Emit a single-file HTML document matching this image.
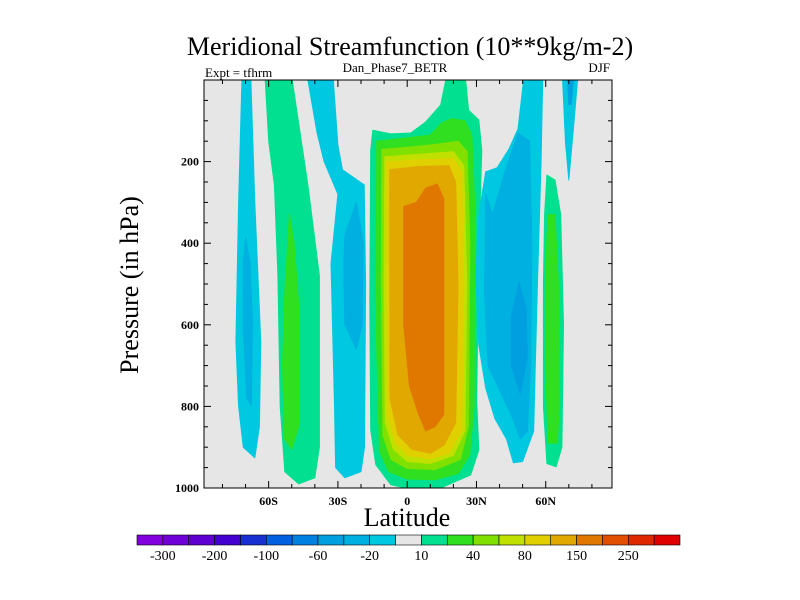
<!DOCTYPE html>
<html><head><meta charset="utf-8">
<style>
html,body{margin:0;padding:0;background:#fff;}
svg{display:block;font-family:"Liberation Serif",serif;}
</style></head>
<body>
<svg id="chart" width="800" height="600" viewBox="0 0 800 600">
<text x="410" y="55" font-size="26" text-anchor="middle">Meridional Streamfunction (10**9kg/m-2)</text>
<text x="205" y="77" font-size="13">Expt = tfhrm</text>
<text x="395" y="72" font-size="13" text-anchor="middle">Dan_Phase7_BETR</text>
<text x="610" y="72" font-size="13" text-anchor="end">DJF</text>
<rect x="204" y="80" width="408" height="408" fill="#e6e6e6"/>
<g id="fills"></g>
<g id="axes"></g>
<rect x="204" y="80" width="408" height="408" fill="none" stroke="#000" stroke-width="1"/>
<text transform="translate(138,285) rotate(-90)" font-size="26" text-anchor="middle">Pressure (in hPa)</text>
<text x="407" y="526" font-size="26" text-anchor="middle">Latitude</text>
<g id="colorbar"></g>
</svg>
<script>
// ---- data ----
const latTicks = [-60, -30, 0, 30, 60];
const latTickLabels = ["60S", "30S", "0", "30N", "60N"];
const presTicks = [200, 400, 600, 800, 1000];
const presTickLabels = ["200", "400", "600", "800", "1000"];
const cbColors = ["#8000e0","#7000d8","#6000d0","#4400d0","#1830d0","#0060e0","#0080e0","#00a0e0","#00b0e0","#00c8e0","#e6e6e6","#00e090","#30e020","#80e000","#c0e000","#e0d000","#e0a800","#e07800","#e05000","#e02800","#e00000"];
const cbLabels = ["-300","-200","-100","-60","-20","10","40","80","150","250"];
// contour regions: fill level color index + [lat, pressure] vertices
const regionLevels = [9,8, 11,12, 9,8, 11,12,13,14,15,16,17, 9,8,7, 9,7, 11,12];
const regionShapes = [
 [[-71.6,0],[-67.7,0],[-66,300],[-63.4,642],[-64,850],[-66,926],[-71,900],[-73,800],[-74.2,642],[-73,300]],
 [[-70,387],[-68,450],[-67,600],[-67.5,797],[-69.5,780],[-71,600],[-71,450]],
 [[-61.5,0],[-49.8,0],[-43,257],[-38,480],[-38,900],[-40,975],[-47,990],[-53,960],[-55,800],[-56,480],[-57.5,257],[-60,150]],
 [[-53,520],[-51,330],[-49,400],[-47,550],[-47,850],[-50,905],[-53,880],[-54,700]],
 [[-43,0],[-32,0],[-30,160],[-28,220],[-18.6,257],[-18,500],[-18.5,900],[-20,960],[-27,975],[-31,950],[-31.5,800],[-33,450],[-30,280],[-36,200],[-39,130]],
 [[-27,380],[-22,300],[-19,400],[-19.5,600],[-22,660],[-27,600],[-27.5,450]],
 [[-14.9,123],[-7.1,132],[1.5,130],[8,103],[14.5,61],[16.7,0],[25.3,0],[26.6,74],[31,98],[32.3,172],[31,417],[30.1,784],[31,907],[27.5,968],[14.5,1000],[-0.6,1000],[-7.1,992],[-13.6,943],[-15.8,858],[-16.2,539],[-15.8,172]],
 [[-13.2,150],[0,142],[10,135],[15,105],[19,95],[25,100],[28,135],[29.2,300],[29,800],[27,920],[22,965],[12,980],[0,978],[-8,960],[-12,910],[-13.5,600]],
 [[-11,170],[0,165],[12,158],[22,150],[26,175],[27.1,400],[26.5,850],[23,930],[12,955],[0,952],[-7,930],[-10.5,870],[-11.2,500]],
 [[-9.7,188],[5,182],[20,176],[24.5,210],[25.8,500],[25,860],[20,920],[10,940],[0,935],[-6,905],[-9.5,840],[-10,500]],
 [[-8.9,200],[8,195],[20,193],[23.5,225],[24.5,500],[23.5,860],[18,915],[10,928],[0,920],[-5,890],[-8.5,820]],
 [[-7.6,220],[5,212],[18,210],[21,250],[22,500],[21,840],[16,895],[10,915],[2,905],[-4,870],[-7.5,780]],
 [[-1.5,310],[4,300],[8,265],[13,255],[15.8,290],[15.8,500],[15.8,820],[12,850],[8,860],[5,820],[1,750],[-1.5,600]],
 [[29.7,480],[31,330],[34,225],[39,215],[44,170],[48,120],[50.4,0],[58.7,0],[58,200],[56.5,480],[55.5,700],[54.8,860],[50,935],[46,938],[43,880],[38,830],[34,755],[31,650]],
 [[33.5,520],[34,280],[37,330],[42,230],[48,130],[53,150],[54,400],[53.5,700],[52,860],[49,880],[45,820],[40,760],[35,700]],
 [[48.5,495],[51.5,560],[52,680],[49,770],[45,700],[45,580]],
 [[67.3,0],[73.8,0],[72,120],[70,245],[68.5,150]],
 [[69.5,0],[72,0],[71,60],[70,60]],
 [[60.5,233],[64,245],[66.5,330],[67.7,600],[67,900],[64.5,948],[60.5,940],[59,800],[59,500],[59.5,330]],
 [[61,330],[64,330],[65.5,500],[66,800],[65,890],[61,890],[60,700],[60,450]]
];
// ---- scales ----
const X0=204, X1=612, Y0=80, Y1=488;
const LAT_MIN=-88, LAT_MAX=88.7, P_MIN=0, P_MAX=1000;
const xs = lat => X0 + (lat-LAT_MIN)/(LAT_MAX-LAT_MIN)*(X1-X0);
const ys = p => Y0 + (p-P_MIN)/(P_MAX-P_MIN)*(Y1-Y0);
const NS="http://www.w3.org/2000/svg";
const fills=document.getElementById('fills');
regionShapes.forEach((pts,i)=>{
  const el=document.createElementNS(NS,'polygon');
  el.setAttribute('points',pts.map(q=>xs(q[0]).toFixed(1)+','+ys(q[1]).toFixed(1)).join(' '));
  el.setAttribute('fill',cbColors[regionLevels[i]]);
  el.setAttribute('stroke',cbColors[regionLevels[i]]);
  el.setAttribute('stroke-linejoin','round');
  
  
  fills.appendChild(el);
});
const axes=document.getElementById('axes');
function line(x1,y1,x2,y2){
  const l=document.createElementNS(NS,'line');
  l.setAttribute('x1',x1);l.setAttribute('y1',y1);l.setAttribute('x2',x2);l.setAttribute('y2',y2);
  l.setAttribute('stroke','#000');l.setAttribute('stroke-width','1');
  
  
  axes.appendChild(l);
}
function text(x,y,s,anchor,name){
  const t=document.createElementNS(NS,'text');
  t.setAttribute('x',x);t.setAttribute('y',y);t.setAttribute('font-size','12');
  t.setAttribute('font-weight','bold');t.setAttribute('text-anchor',anchor);
  t.textContent=s;
  
  
  return t;
}
for(let lat=-80;lat<=80;lat+=10){
  const x=xs(lat), major=latTicks.includes(lat), L=major?7:4;
  line(x,Y1,x,Y1-L); line(x,Y0,x,Y0+L);
}
for(let p=50;p<1000;p+=50){
  const y=ys(p), major=presTicks.includes(p), L=major?7:4;
  line(X0,y,X0+L,y); line(X1,y,X1-L,y);
}
latTicks.forEach((v,i)=>axes.appendChild(text(xs(v),Y1+17,latTickLabels[i],'middle','x-tick-label')));
presTicks.forEach((v,i)=>axes.appendChild(text(X0-5,ys(v)+4,presTickLabels[i],'end','y-tick-label')));
// colorbar
const cb=document.getElementById('colorbar');
const CB0=137, CB1=680, CBy=535, CBh=10, bw=(CB1-CB0)/cbColors.length;
cbColors.forEach((c,i)=>{
  const r=document.createElementNS(NS,'rect');
  r.setAttribute('x',CB0+i*bw);r.setAttribute('y',CBy);r.setAttribute('width',bw);r.setAttribute('height',CBh);
  r.setAttribute('fill',c);r.setAttribute('stroke','#000');r.setAttribute('stroke-width','0.6');
  
  
  cb.appendChild(r);
});
cbLabels.forEach((s,i)=>{
  const t=text(CB0+(2*i+1)*bw,CBy+25,s,'middle','colorbar-label');
  t.setAttribute('font-size','14');t.setAttribute('font-weight','normal');
  cb.appendChild(t);
});
</script>
</body></html>
